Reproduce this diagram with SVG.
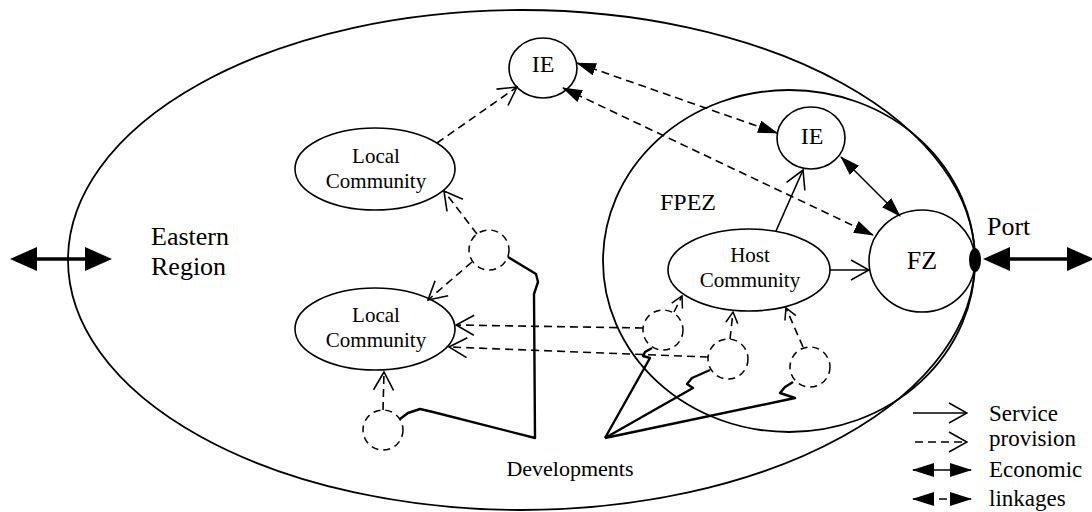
<svg xmlns="http://www.w3.org/2000/svg" width="1092" height="512" viewBox="0 0 1092 512">
<style>
.t{font-family:"Liberation Serif","Times New Roman",serif;fill:#000}
.n{fill:#fff;stroke:#000;stroke-width:1.6}
.big{fill:none;stroke:#000;stroke-width:1.8}
.dc{fill:none;stroke:#000;stroke-width:1.5;stroke-dasharray:7 5}
.c{fill:none;stroke:#000;stroke-width:1.6}
.d{stroke-dasharray:8 5}
.dev{fill:none;stroke:#000;stroke-width:2.4;stroke-linejoin:round}
.thick{fill:none;stroke:#000;stroke-width:3.5}
</style>
<defs>
<marker id="op" viewBox="0 0 20 22" refX="19" refY="11" markerWidth="20" markerHeight="22" markerUnits="userSpaceOnUse" orient="auto">
<path d="M1,1 L19,11 L1,21" fill="none" stroke="#000" stroke-width="1.6"/>
</marker>
<marker id="ops" viewBox="0 0 13 14" refX="12" refY="7" markerWidth="13" markerHeight="14" markerUnits="userSpaceOnUse" orient="auto">
<path d="M1,1 L12,7 L1,13" fill="none" stroke="#000" stroke-width="1.5"/>
</marker>
<marker id="fl" viewBox="0 0 20 13" refX="19" refY="6.5" markerWidth="20" markerHeight="13" markerUnits="userSpaceOnUse" orient="auto-start-reverse">
<path d="M0,0 L20,6.5 L0,13 z" fill="#000"/>
</marker>
<marker id="fll" viewBox="0 0 22 14" refX="21" refY="7" markerWidth="22" markerHeight="14" markerUnits="userSpaceOnUse" orient="auto-start-reverse">
<path d="M0,0 L22,7 L0,14 z" fill="#000"/>
</marker>
</defs>

<g id="region">
<ellipse class="big" cx="521.5" cy="260" rx="453.5" ry="250"/>
<text class="t" x="151" y="245" font-size="26">Eastern</text>
<text class="t" x="151" y="275" font-size="26">Region</text>
</g>
<g id="fpez">
<ellipse class="big" cx="789" cy="261" rx="186" ry="171"/>
<text class="t" x="660" y="210" font-size="24">FPEZ</text>
</g>
<g id="ie-top">
<ellipse class="n" cx="543" cy="68" rx="34" ry="30"/>
<text class="t" x="543" y="72" font-size="24" text-anchor="middle">IE</text>
</g>
<g id="ie-right">
<ellipse class="n" cx="811" cy="138" rx="34" ry="31"/>
<text class="t" x="812" y="144" font-size="24" text-anchor="middle">IE</text>
</g>
<g id="fz">
<ellipse class="n" cx="922" cy="261" rx="53" ry="51"/>
<text class="t" x="922" y="269" font-size="26" text-anchor="middle">FZ</text>
</g>
<g id="port">
<ellipse cx="975" cy="260" rx="6" ry="12" fill="#000"/>
<text class="t" x="987" y="235" font-size="26">Port</text>
</g>
<g id="local-top">
<ellipse class="n" cx="375" cy="169" rx="80" ry="41"/>
<text class="t" x="376" y="163" font-size="21" text-anchor="middle">Local</text>
<text class="t" x="376" y="188" font-size="21" text-anchor="middle">Community</text>
</g>
<g id="local-bottom">
<ellipse class="n" cx="375" cy="329" rx="80" ry="41"/>
<text class="t" x="376" y="322" font-size="21" text-anchor="middle">Local</text>
<text class="t" x="376" y="347" font-size="21" text-anchor="middle">Community</text>
</g>
<g id="host">
<ellipse class="n" cx="749" cy="270" rx="81" ry="41"/>
<text class="t" x="750" y="262" font-size="21" text-anchor="middle">Host</text>
<text class="t" x="750" y="287" font-size="21" text-anchor="middle">Community</text>
</g>
<g id="dev1"><circle class="dc" cx="489" cy="250" r="20"/></g>
<g id="dev2"><circle class="dc" cx="383" cy="430" r="20"/></g>
<g id="dev3"><circle class="dc" cx="663" cy="330" r="20"/></g>
<g id="dev4"><circle class="dc" cx="728" cy="359" r="20"/></g>
<g id="dev5"><circle class="dc" cx="810" cy="367" r="20"/></g>
<g id="developments">
<text class="t" x="570" y="476" font-size="22" text-anchor="middle">Developments</text>
</g>

<g id="connectors">
<line class="c d" x1="437" y1="143" x2="517" y2="87" marker-end="url(#op)"/>
<line class="c d" x1="477" y1="234" x2="444" y2="191" marker-end="url(#op)"/>
<line class="c d" x1="472" y1="262" x2="428" y2="300" marker-end="url(#op)"/>
<line class="c d" x1="643" y1="328" x2="456" y2="325" marker-end="url(#op)"/>
<line class="c d" x1="708" y1="357" x2="449" y2="347" marker-end="url(#op)"/>
<line class="c d" x1="383" y1="410" x2="384" y2="372" marker-end="url(#op)"/>
<line class="c d" x1="674" y1="312" x2="682" y2="296" marker-end="url(#ops)"/>
<line class="c d" x1="730" y1="339" x2="733" y2="312" marker-end="url(#ops)"/>
<line class="c d" x1="803" y1="347" x2="786" y2="308" marker-end="url(#ops)"/>
<line class="c" x1="776" y1="231" x2="803" y2="170" marker-end="url(#op)"/>
<line class="c" x1="830" y1="270" x2="869" y2="270" marker-end="url(#op)"/>
<line class="c d" x1="577" y1="63" x2="777" y2="133" marker-start="url(#fl)" marker-end="url(#fl)"/>
<line class="c d" x1="563" y1="88" x2="873" y2="235" marker-start="url(#fl)" marker-end="url(#fl)"/>
<line class="c" x1="841" y1="157" x2="900" y2="216" marker-start="url(#fl)" marker-end="url(#fl)"/>
<g id="left-arrow">
<line class="thick" x1="34" y1="259" x2="88" y2="259"/>
<polygon points="10,259 37,247 37,271" fill="#000"/>
<polygon points="112,259 85,247 85,271" fill="#000"/>
</g>
<g id="right-arrow">
<line class="thick" x1="1005" y1="259" x2="1070" y2="259"/>
<polygon points="983,259 1010,247 1010,271" fill="#000"/>
<polygon points="1094,259 1067,247 1067,271" fill="#000"/>
</g>
<polyline class="dev" points="508,257 536,274 538,282 534,294 535,438 433,412 420,409 408,413 400,419"/>
<polyline class="dev" points="605,438 650,358 643,356 645,352 652,348"/>
<polyline class="dev" points="605,438 693,388 687,384 692,378 710,370"/>
<polyline class="dev" points="605,438 795,398 780,393 785,387 793,382"/>
</g>

<g id="legend">
<line class="c" x1="913" y1="413" x2="967" y2="413" marker-end="url(#op)"/>
<line class="c d" x1="915" y1="442" x2="967" y2="442" marker-end="url(#op)"/>
<line class="c" x1="913" y1="470" x2="971" y2="470" marker-start="url(#fll)" marker-end="url(#fll)"/>
<line class="c d" x1="913" y1="499" x2="971" y2="499" marker-start="url(#fll)" marker-end="url(#fll)"/>
<text class="t" x="989" y="421" font-size="23">Service</text>
<text class="t" x="989" y="446" font-size="23">provision</text>
<text class="t" x="989" y="477" font-size="23">Economic</text>
<text class="t" x="989" y="506" font-size="23">linkages</text>
</g>
</svg>
